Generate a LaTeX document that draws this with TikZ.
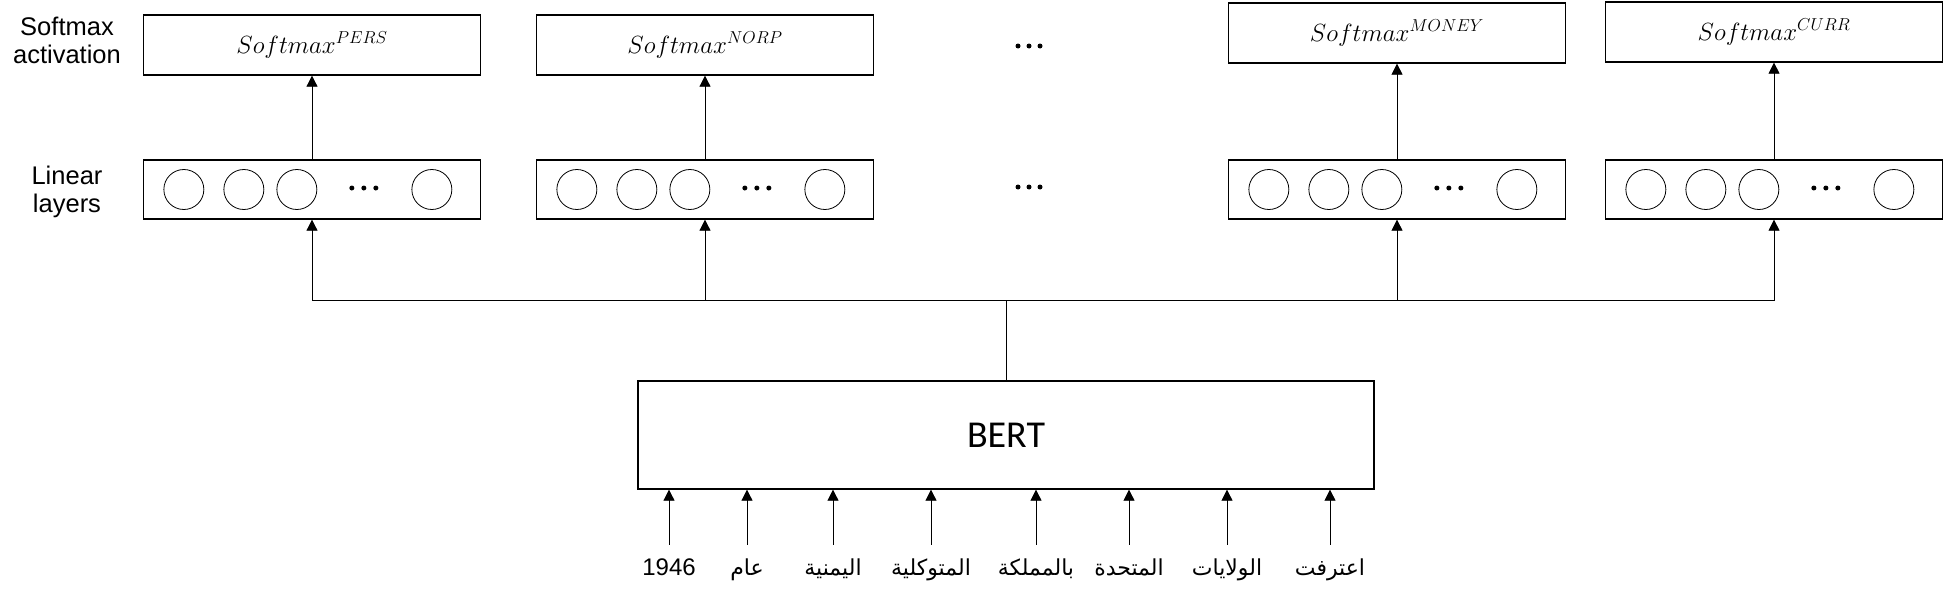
\documentclass[tikz,border=0pt]{standalone}
\usepackage{fontspec}
\setmainfont{Liberation Sans}
\newfontfamily\bertfont{Carlito}
\newfontfamily\arabicfont[Script=Arabic]{DejaVu Sans}
\TeXXeTstate=1
\usetikzlibrary{positioning}
\usetikzlibrary{arrows.meta}
\tikzset{
   box/.style = {%
    shape=rectangle,
    draw=black,
    line width=1.3pt,
    minimum width=337pt,
    minimum height=60pt,
    inner sep=0pt,
    align=center,
    font=\fontsize{24}{24}\selectfont},
   unit/.style = {%
    circle,
    draw=black,
    line width=0.8pt,
    minimum size=40pt,
    inner sep=0pt},
 arrow/.style = {%
    draw=black,
    line width=0.8pt,
    -{Triangle[length=11pt,width=11pt]}},
  link/.style = {draw=black, line width=0.8pt},
  side/.style = {align=center, font=\fontsize{25.5}{28}\selectfont},
  word/.style = {%
    anchor=base,
    inner sep=0pt,
    text height=30pt,
    text depth=6pt,
    font=\fontsize{22}{22}\selectfont},
    }

\begin{document}
\begin{tikzpicture}[x=1pt,y=-1pt]
    \useasboundingbox (0,0) rectangle (1945,600);
    % side labels
    \node[side] (lblSoft) at (67,40)  {Softmax\\activation};
    \node[side] (lblLin)  at (67,192) {Linear\\layers};
    % softmax heads
    \node[box] (smPERS)  at (312,45)  {$Softmax^{PERS}$};
    \node[box] (smNORP)  at (705,45)  {$Softmax^{NORP}$};
    \node[box] (smMONEY) at (1397,33) {$Softmax^{MONEY}$};
    \node[box] (smCURR)  at (1774,32) {$Softmax^{CURR}$};
    % linear layers
    \node[box, minimum height=59pt] (lPERS)  at (312,189.5)  {};
    \node[box, minimum height=59pt] (lNORP)  at (705,189.5)  {};
    \node[box, minimum height=59pt] (lMONEY) at (1397,189.5) {};
    \node[box, minimum height=59pt] (lCURR)  at (1774,189.5) {};
    \foreach \t in {PERS,NORP,MONEY,CURR} {
        \foreach \dx [count=\i] in {41,101,154,289}
            \node[unit] (l\t-c\i) at ([xshift=\dx pt]l\t.west) {};
        \foreach \dx in {209,221,233}
            \fill ([xshift=\dx pt, yshift=1.5pt]l\t.west) circle (2.5pt);
        \draw[arrow] (l\t.north) -- (sm\t.south);
    }
    % gap between heads
    \coordinate (gapTop) at (1029,46);
    \coordinate (gapLin) at (1029,187);
    \foreach \dd in {-11,0,11} {
        \fill ([xshift=\dd pt]gapTop) circle (2.5pt);
        \fill ([xshift=\dd pt]gapLin) circle (2.5pt);
    }
    % encoder
    \node[draw=black, line width=1.3pt, minimum width=736pt, minimum height=108pt,
          font=\bertfont\fontsize{38}{38}\selectfont] (bert) at (1006,435) {BERT};
    \coordinate (bus) at (1006,300);
    \draw[link] (bert.north) -- (bus);
    \foreach \t in {PERS,NORP,MONEY,CURR}
        \draw[arrow] (bus) -| (l\t.south);
    % input tokens
    \node[word, font=\fontsize{24}{24}\selectfont] (w1) at (669,575) {1946};
    \node[word] (w2) at (747,575)  {\arabicfont\beginR عام\endR};
    \node[word] (w3) at (833,575)  {\arabicfont\beginR اليمنية\endR};
    \node[word] (w4) at (931,575)  {\arabicfont\beginR المتوكلية\endR};
    \node[word] (w5) at (1036,575) {\arabicfont\beginR بالمملكة\endR};
    \node[word] (w6) at (1129,575) {\arabicfont\beginR المتحدة\endR};
    \node[word] (w7) at (1227,575) {\arabicfont\beginR الولايات\endR};
    \node[word] (w8) at (1330,575) {\arabicfont\beginR اعترفت\endR};
    \foreach \i in {1,...,8}
        \draw[arrow] (w\i.north) -- (w\i.north |- bert.south);
\end{tikzpicture}
\end{document}
